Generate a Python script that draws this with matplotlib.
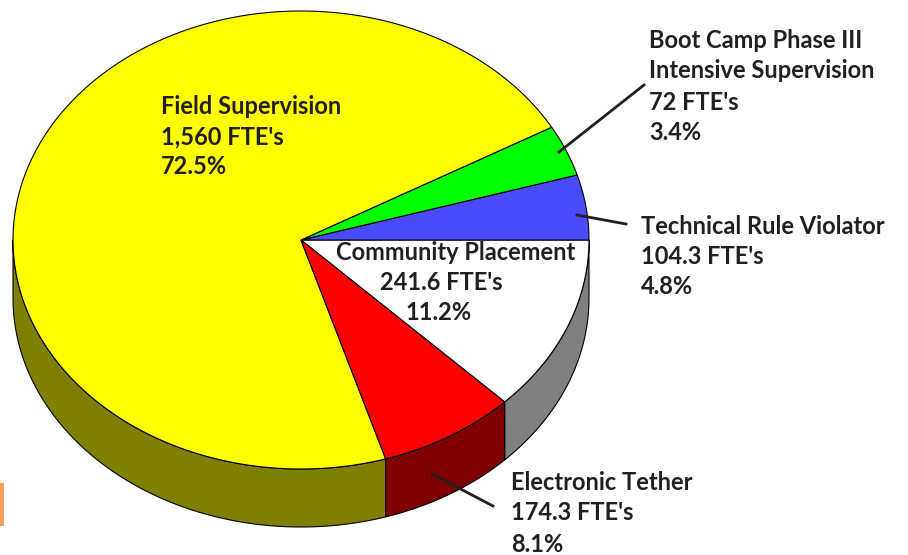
import numpy as np
import matplotlib
matplotlib.use('Agg')
from matplotlib import pyplot as plt
from matplotlib.patches import Polygon, Rectangle

W, H = 908, 555

# slices, in the order they run round the pie. sweep is the share as drawn,
# in degrees (the drawing is not quite the printed %)
names = ['Community Placement', 'Technical Rule Violator', 'Boot Camp', 'Field Supervision', 'Electronic Tether']
sweep = [45, 16.5, 13, 257.6, 27.9]
colors = ['#ffffff', '#4a4aff', '#00ff00', '#ffff00', '#ff0000']
side_colors = ['#808080', '#25257f', '#007f00', '#808000', '#7f0000']

labels = [
    (649, 41, "Boot Camp Phase III", 'left'),
    (649, 71, "Intensive Supervision", 'left'),
    (649, 102, "72 FTE's", 'left'),
    (649, 133, "3.4%", 'left'),
    (161, 106, "Field Supervision", 'left'),
    (161, 137, "1,560 FTE's", 'left'),
    (161, 167, "72.5%", 'left'),
    (641, 226, "Technical Rule Violator", 'left'),
    (641, 256, "104.3 FTE's", 'left'),
    (641, 287, "4.8%", 'left'),
    (456, 253, "Community Placement", 'center'),
    (441, 283, "241.6 FTE's", 'center'),
    (439, 313, "11.2%", 'center'),
    (511, 482, "Electronic Tether", 'left'),
    (511, 513, "174.3 FTE's", 'left'),
    (511, 544, "8.1%", 'left'),
]
leaders = [((559, 152), (644, 85)), ((577, 215), (626, 224)), ((432, 474), (493, 506))]

cx, cy, rx, ry, depth = 301, 240, 288, 229, 58

fig = plt.figure(figsize=(W/100, H/100), dpi=100)
ax = fig.add_axes([0, 0, 1, 1])
ax.set_xlim(0, W)
ax.set_ylim(H, 0)
ax.axis('off')

def rim(a0, a1):
    t = np.radians(np.linspace(a0, a1, 200))
    return cx + rx*np.cos(t), cy - ry*np.sin(t)

def wall(a0, a1, c):
    x, y = rim(a0, a1)
    ax.add_patch(Polygon(np.r_[np.c_[x, y], np.c_[x, y+depth][::-1]], fc=c, ec='k', lw=0.8, zorder=2))

a = -sweep[0]
for val, c, sc in zip(sweep, colors, side_colors):
    b = a + val
    # only the front half of the rim shows a wall (angles -180..0, same as 180..360)
    if min(b, 0) > a:
        wall(a, min(b, 0), sc)
    if b > 180:
        wall(max(a, 180), b, sc)
    x, y = rim(a, b)
    ax.add_patch(Polygon(np.r_[[[cx, cy]], np.c_[x, y]], fc=c, ec='k', lw=0.8, zorder=3))
    a = b

for p, q in leaders:
    ax.plot([p[0], q[0]], [p[1], q[1]], color='#231f20', lw=2, zorder=4)

for x, y, s, ha in labels:
    ax.text(x, y, s, ha=ha, va='center', fontsize=17, fontweight='bold', color='#231f20',
            family=['Lato', 'DejaVu Sans'], zorder=5)

# orange sliver at the left edge
ax.add_patch(Rectangle((0, 483), 4, 43, fc='#fb9c5e', ec='none', zorder=1))

fig.savefig('out.png', dpi=100)
